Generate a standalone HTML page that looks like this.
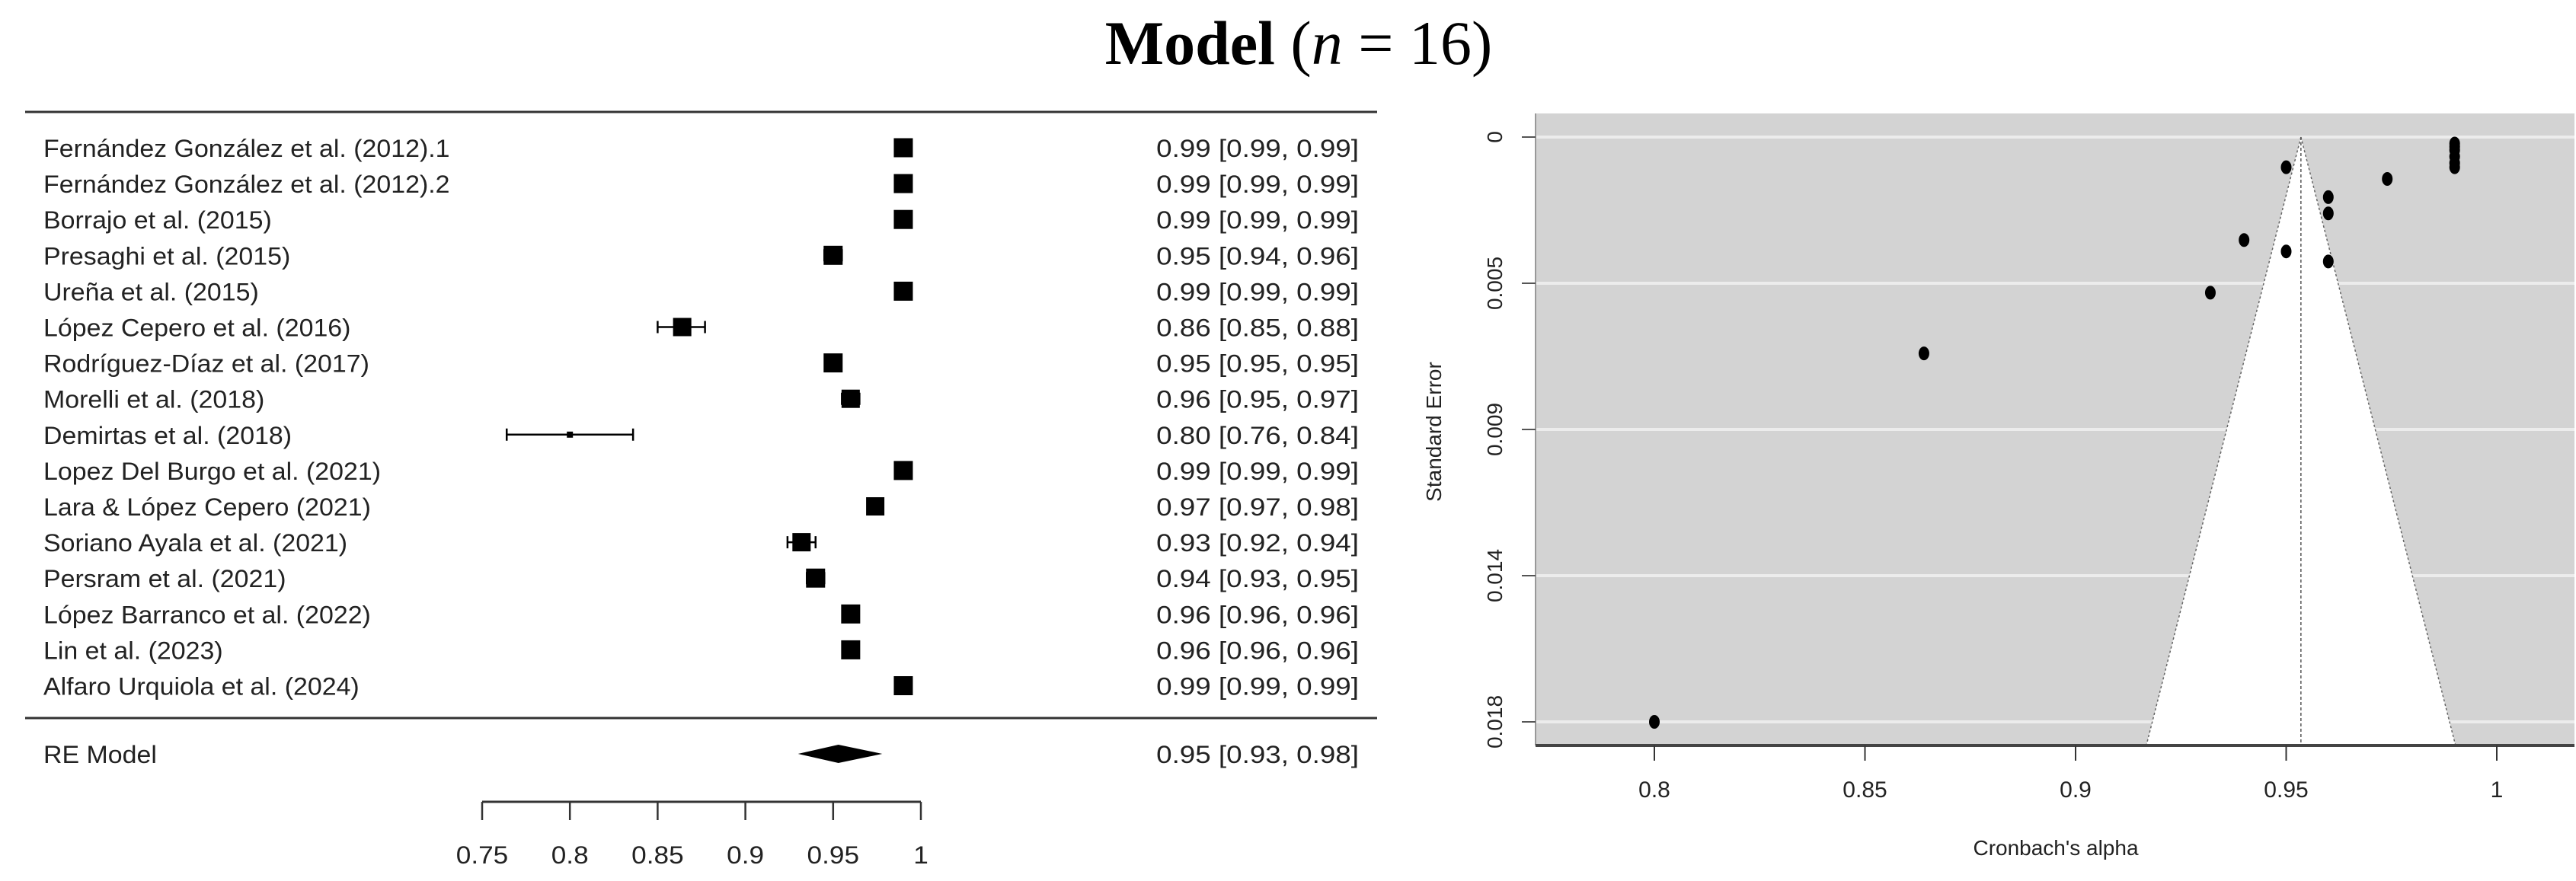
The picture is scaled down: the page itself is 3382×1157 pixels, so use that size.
<!DOCTYPE html>
<html><head><meta charset="utf-8">
<style>
html,body{margin:0;padding:0;background:#fff;}
svg{display:block;font-family:"Liberation Sans",Arial,sans-serif;}
</style></head>
<body>
<svg id="fig" width="3382" height="1157" viewBox="0 0 3382 1157" xmlns="http://www.w3.org/2000/svg">
  <text x="1705" y="84" text-anchor="middle" font-family="'Liberation Serif',serif" font-size="82" fill="#000"><tspan font-weight="bold">Model</tspan> (<tspan font-style="italic">n</tspan> = 16)</text>
  <g id="forest"></g>
  <g id="funnel"></g>
</svg>
<script>
const studies = ["Fernández González et al. (2012).1","Fernández González et al. (2012).2","Borrajo et al. (2015)","Presaghi et al. (2015)","Ureña et al. (2015)","López Cepero et al. (2016)","Rodríguez-Díaz et al. (2017)","Morelli et al. (2018)","Demirtas et al. (2018)","Lopez Del Burgo et al. (2021)","Lara & López Cepero (2021)","Soriano Ayala et al. (2021)","Persram et al. (2021)","López Barranco et al. (2022)","Lin et al. (2023)","Alfaro Urquiola et al. (2024)"];
const est = [0.99,0.99,0.99,0.95,0.99,0.864,0.95,0.96,0.80,0.99,0.974,0.932,0.94,0.96,0.96,0.99];
const lo  = [0.99,0.99,0.99,0.945,0.99,0.85,0.95,0.955,0.764,0.99,0.97,0.924,0.935,0.96,0.96,0.99];
const hi  = [0.99,0.99,0.99,0.955,0.99,0.877,0.95,0.965,0.836,0.99,0.978,0.94,0.945,0.96,0.96,0.99];
const ciText = ["0.99 [0.99, 0.99]","0.99 [0.99, 0.99]","0.99 [0.99, 0.99]","0.95 [0.94, 0.96]","0.99 [0.99, 0.99]","0.86 [0.85, 0.88]","0.95 [0.95, 0.95]","0.96 [0.95, 0.97]","0.80 [0.76, 0.84]","0.99 [0.99, 0.99]","0.97 [0.97, 0.98]","0.93 [0.92, 0.94]","0.94 [0.93, 0.95]","0.96 [0.96, 0.96]","0.96 [0.96, 0.96]","0.99 [0.99, 0.99]"];
const markerSize = [25,25,25,25,25,24,25,24,8,25,24,24,25,25,25,25];
const reModel = [0.953,0.93,0.978];
const reText = "0.95 [0.93, 0.98]";
const forestTicks = [0.75,0.8,0.85,0.9,0.95,1];
const forestTickLabels = ["0.75","0.8","0.85","0.9","0.95","1"];

const funnelAlpha = [0.99,0.99,0.99,0.99,0.99,0.99,0.974,0.96,0.96,0.96,0.95,0.95,0.94,0.932,0.864,0.80];
const funnelSE = [0.0002,0.0003,0.0004,0.0006,0.0008,0.00093,0.00129,0.00185,0.00235,0.00383,0.00093,0.00352,0.00317,0.00479,0.00666,0.018];
const funnelXTicks = [0.8,0.85,0.9,0.95,1];
const funnelXLabels = ["0.8","0.85","0.9","0.95","1"];
const funnelYTicks = [0,0.0045,0.009,0.0135,0.018];
const funnelYLabels = ["0","0.005","0.009","0.014","0.018"];
const funnelCenter = 0.9535;
const funnelSEMax = 0.01873;

const NS="http://www.w3.org/2000/svg";
function mk(parent,tag,attrs){const e=document.createElementNS(NS,tag);for(const k in attrs)e.setAttribute(k,attrs[k]);parent.appendChild(e);return e;}

// ---------- Forest ----------
const F=document.getElementById('forest');
const fx=v=>633+(v-0.75)/0.25*576;
const fy=i=>194+i*47.1;
let ln=mk(F,'line',{x1:33,x2:1808,y1:147,y2:147,stroke:'#333','stroke-width':3});


ln=mk(F,'line',{x1:33,x2:1808,y1:943,y2:943,stroke:'#333','stroke-width':3});


studies.forEach((s,i)=>{
  const y=fy(i);
  let t=mk(F,'text',{x:0,y:0,'font-size':32,fill:'#222',transform:`translate(57 ${y+12}) scale(1.06 1)`});t.textContent=s;
  
  
  let c=mk(F,'text',{x:0,y:0,'font-size':32,fill:'#222','text-anchor':'end',transform:`translate(1784 ${y+12}) scale(1.15 1)`});c.textContent=ciText[i];
  
  
  if(hi[i]>lo[i]){
    let w=mk(F,'path',{d:`M${fx(lo[i])},${y}H${fx(hi[i])}M${fx(lo[i])},${y-8}V${y+8}M${fx(hi[i])},${y-8}V${y+8}`,stroke:'#000','stroke-width':2.5,fill:'none'});
    
    
  }
  const m=markerSize[i];
  let r=mk(F,'rect',{x:fx(est[i])-m/2,y:y-m/2,width:m,height:m,fill:'#000'});
  
  
});
const ry=990;
let re=mk(F,'text',{x:0,y:0,'font-size':32,fill:'#222',transform:`translate(57 ${ry+12}) scale(1.06 1)`});re.textContent='RE Model';


let rt=mk(F,'text',{x:0,y:0,'font-size':32,fill:'#222','text-anchor':'end',transform:`translate(1784 ${ry+12}) scale(1.15 1)`});rt.textContent=reText;


let dm=mk(F,'polygon',{points:`${fx(reModel[1])},${ry} ${fx(reModel[0])},${ry-12} ${fx(reModel[2])},${ry} ${fx(reModel[0])},${ry+12}`,fill:'#000'});


let ax=mk(F,'line',{x1:fx(0.75),x2:fx(1),y1:1053,y2:1053,stroke:'#333','stroke-width':3});


forestTicks.forEach((v,i)=>{
  let tk=mk(F,'line',{x1:fx(v),x2:fx(v),y1:1053,y2:1077,stroke:'#333','stroke-width':2.5});
  
  
  let tl=mk(F,'text',{x:0,y:0,'font-size':32,fill:'#222','text-anchor':'middle',transform:`translate(${fx(v)} 1134) scale(1.1 1)`});tl.textContent=forestTickLabels[i];
  
  
});

// ---------- Funnel ----------
const G=document.getElementById('funnel');
const gx=v=>2172+(v-0.8)/0.05*276.5;
const gy=se=>180+se*42667;
const L=2016,R=3380,T=149,B=979;
let bg=mk(G,'rect',{x:L,y:T,width:R-L,height:B-T,fill:'#d3d3d3'});


funnelYTicks.forEach(v=>{
  let gl=mk(G,'line',{x1:L,x2:R,y1:gy(v),y2:gy(v),stroke:'#ececec','stroke-width':4});
  
  
});
const lw=funnelCenter-1.96*funnelSEMax, rw=funnelCenter+1.96*funnelSEMax;
let tri=mk(G,'polygon',{points:`${gx(funnelCenter)},${gy(0)} ${gx(lw)},${B} ${gx(rw)},${B}`,fill:'#fff',stroke:'#666','stroke-width':1.5,'stroke-dasharray':'3,3'});


let cl=mk(G,'line',{x1:gx(funnelCenter),x2:gx(funnelCenter),y1:gy(0),y2:B,stroke:'#555','stroke-width':1.5,'stroke-dasharray':'4,3'});


let la=mk(G,'line',{x1:L,x2:L,y1:T,y2:B,stroke:'#999','stroke-width':2});


let xa=mk(G,'line',{x1:L,x2:R,y1:B,y2:B,stroke:'#444','stroke-width':4});


funnelXTicks.forEach((v,i)=>{
  let tk=mk(G,'line',{x1:gx(v),x2:gx(v),y1:B,y2:B+20,stroke:'#333','stroke-width':2});
  
  
  let tl=mk(G,'text',{x:gx(v),y:1047,'font-size':30,fill:'#222','text-anchor':'middle'});tl.textContent=funnelXLabels[i];
  
  
});
funnelYTicks.forEach((v,i)=>{
  let tk=mk(G,'line',{x1:L-18,x2:L,y1:gy(v),y2:gy(v),stroke:'#555','stroke-width':2});
  
  
  let tl=mk(G,'text',{x:1972,y:gy(v),'font-size':28,fill:'#222','text-anchor':'middle',transform:`rotate(-90 1972 ${gy(v)})`});tl.textContent=funnelYLabels[i];
  
  
});
funnelAlpha.forEach((a,i)=>{
  let p=mk(G,'ellipse',{cx:gx(a),cy:gy(funnelSE[i]),rx:7,ry:9,fill:'#000'});
  
  
});
let xt=mk(G,'text',{x:2699,y:1123,'font-size':28,fill:'#222','text-anchor':'middle'});xt.textContent="Cronbach's alpha";


let yt=mk(G,'text',{x:1892,y:567,'font-size':28,fill:'#222','text-anchor':'middle',transform:'rotate(-90 1892 567)'});yt.textContent="Standard Error";


</script>
</body></html>
